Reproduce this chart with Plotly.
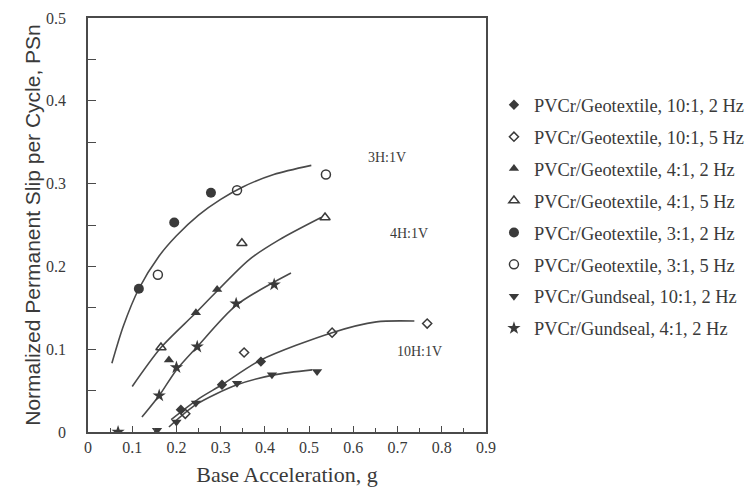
import plotly.graph_objects as go

# ---- data ----
names = [
    "PVCr/Geotextile, 10:1, 2 Hz",
    "PVCr/Geotextile, 10:1, 5 Hz",
    "PVCr/Geotextile, 4:1, 2 Hz",
    "PVCr/Geotextile, 4:1, 5 Hz",
    "PVCr/Geotextile, 3:1, 2 Hz",
    "PVCr/Geotextile, 3:1, 5 Hz",
    "PVCr/Gundseal, 10:1, 2 Hz",
    "PVCr/Gundseal, 4:1, 2 Hz",
]
geo10_2_x = [0.21, 0.303, 0.391]
geo10_2_y = [0.027, 0.057, 0.085]
geo10_5_x = [0.22, 0.353, 0.552, 0.767]
geo10_5_y = [0.022, 0.096, 0.12, 0.131]
geo4_2_x = [0.183, 0.244, 0.292]
geo4_2_y = [0.087, 0.144, 0.172]
geo4_5_x = [0.165, 0.348, 0.536]
geo4_5_y = [0.102, 0.228, 0.259]
geo3_2_x = [0.115, 0.195, 0.278]
geo3_2_y = [0.173, 0.253, 0.289]
geo3_5_x = [0.158, 0.337, 0.538]
geo3_5_y = [0.19, 0.292, 0.311]
gund10_x = [0.156, 0.2, 0.244, 0.337, 0.416, 0.518]
gund10_y = [0.002, 0.012, 0.035, 0.059, 0.069, 0.073]
gund4_x = [0.068, 0.161, 0.2, 0.247, 0.335, 0.421]
gund4_y = [0.0, 0.044, 0.078, 0.103, 0.155, 0.178]

# fitted curves as drawn in the figure
c3_x = [0.054, 0.08, 0.115, 0.16, 0.2, 0.25, 0.3, 0.35, 0.42, 0.505]
c3_y = [0.083, 0.128, 0.173, 0.212, 0.237, 0.262, 0.281, 0.296, 0.311, 0.322]
c4_x = [0.1, 0.165, 0.244, 0.364, 0.432, 0.527]
c4_y = [0.055, 0.102, 0.144, 0.208, 0.232, 0.259]
cs_x = [0.122, 0.161, 0.2, 0.247, 0.335, 0.459]
cs_y = [0.018, 0.044, 0.075, 0.103, 0.153, 0.192]
c10a_x = [0.188, 0.25, 0.303, 0.391, 0.552, 0.652, 0.738]
c10a_y = [0.015, 0.04, 0.057, 0.087, 0.12, 0.133, 0.134]
c10b_x = [0.183, 0.244, 0.337, 0.421, 0.507]
c10b_y = [0.006, 0.033, 0.057, 0.069, 0.075]

labels = ["3H:1V", "4H:1V", "10H:1V"]
label_x = [0.676, 0.726, 0.75]
label_y = [0.332, 0.24, 0.097]

x_ticks = [0, 0.1, 0.2, 0.3, 0.4, 0.5, 0.6, 0.7, 0.8, 0.9]
x_ticktext = ["0", "0.1", "0.2", "0.3", "0.4", "0.5", "0.6", "0.7", "0.8", "0.9"]
y_ticks = [0, 0.1, 0.2, 0.3, 0.4, 0.5]
y_ticktext = ["0", "0.1", "0.2", "0.3", "0.4", "0.5"]

INK = "#3a3a3a"
LINE = "#4a4a4a"
SERIF = "Liberation Serif, Times New Roman, serif"

fig = go.Figure()

for cx, cy in [(c3_x, c3_y), (c4_x, c4_y), (cs_x, cs_y), (c10a_x, c10a_y), (c10b_x, c10b_y)]:
    fig.add_trace(go.Scatter(x=cx, y=cy, mode="lines", line=dict(color=LINE, width=1.6, shape="spline", smoothing=0.8),
                             showlegend=False, hoverinfo="skip"))

series = [
    (geo10_2_x, geo10_2_y, "diamond", INK, 8, 0),
    (geo10_5_x, geo10_5_y, "diamond-open", INK, 7, 1.5),
    (geo4_2_x, geo4_2_y, "triangle-up", INK, 9, 0),
    (geo4_5_x, geo4_5_y, "triangle-up-open", INK, 9, 1.5),
    (geo3_2_x, geo3_2_y, "circle", INK, 10, 0),
    (geo3_5_x, geo3_5_y, "circle-open", INK, 9, 1.5),
    (gund10_x, gund10_y, "triangle-down", INK, 9, 0),
    (gund4_x, gund4_y, "star", INK, 10, 0),
]
for i, (sx, sy, sym, col, size, lw) in enumerate(series):
    fig.add_trace(go.Scatter(
        x=sx, y=sy, mode="markers", name=names[i], legendgroup=str(i),
        marker=dict(symbol=sym, color=col, size=size, line=dict(color=col, width=lw)),
    ))

for t, lx, ly in zip(labels, label_x, label_y):
    fig.add_annotation(x=lx, y=ly, text=t, showarrow=False, xref="x", yref="y",
                       font=dict(family=SERIF, size=14, color=INK))

fig.update_layout(
    width=754, height=490,
    margin=dict(l=80, r=276, t=10, b=66, autoexpand=False),
    paper_bgcolor="white", plot_bgcolor="white",
    font=dict(family=SERIF, color=INK, size=15),
    legend=dict(x=1.02, xanchor="left", y=0.835, yanchor="top",
                font=dict(family=SERIF, size=18.4, color=INK),
                tracegroupgap=5, itemwidth=30, bgcolor="rgba(0,0,0,0)"),
    showlegend=True,
)
fig.update_xaxes(
    range=[0, 0.9], tickvals=x_ticks, ticktext=x_ticktext, automargin=False,
    showline=True, linecolor=LINE, linewidth=1.5, mirror=True,
    ticks="inside", ticklen=6, tickcolor=LINE, tickwidth=1.2,
    minor=dict(ticks="inside", ticklen=4, dtick=0.05, tickcolor=LINE, tickwidth=1.2),
    showgrid=False, zeroline=False, ticklabeloverflow="allow",
    tickfont=dict(family=SERIF, size=16, color=INK), ticklabelstandoff=0,
    title=dict(text="Base Acceleration, g", font=dict(family=SERIF, size=22, color=INK), standoff=12),
)
fig.update_yaxes(
    range=[0, 0.5], tickvals=y_ticks, ticktext=y_ticktext, automargin=False,
    showline=True, linecolor=LINE, linewidth=1.5, mirror=True,
    ticks="inside", ticklen=8, tickcolor=LINE, tickwidth=1.2,
    minor=dict(ticks="inside", ticklen=8, dtick=0.05, tickcolor=LINE, tickwidth=1.2),
    showgrid=False, zeroline=False, ticklabeloverflow="allow",
    tickfont=dict(family=SERIF, size=16, color=INK), ticklabelstandoff=17,
    title=dict(text="Normalized Permanent Slip per Cycle, PSn",
               font=dict(family="Liberation Sans, Arial, sans-serif", size=21, color=INK), standoff=0),
)

fig.write_html("out.html")
